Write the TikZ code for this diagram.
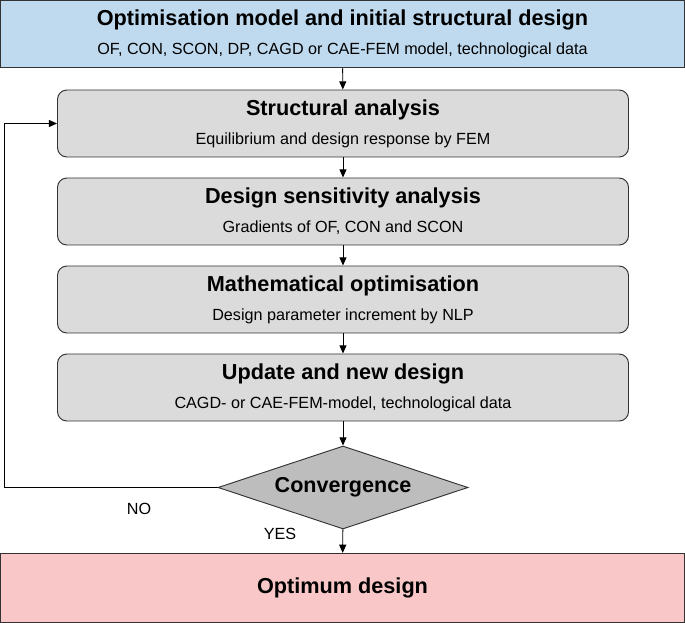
\documentclass[tikz,border=0pt]{standalone}
\usepackage{fontspec}
\setmainfont{Liberation Sans}
\usetikzlibrary{shapes.geometric,arrows.meta}
\definecolor{topblue}{HTML}{BFDAEF}
\definecolor{boxgray}{HTML}{DBDBDB}
\definecolor{diagray}{HTML}{BDBDBD}
\definecolor{endpink}{HTML}{F9C7C7}
\definecolor{edge}{HTML}{333333}

\begin{document}
\begin{tikzpicture}[x=0.3mm,y=-0.3mm,>={Triangle[length=7pt,width=6pt]},
  sub/.style={font=\fontsize{13.8}{16}\selectfont},
  stage/.style={draw=edge,line width=0.8pt,fill=boxgray,rounded corners=8pt,
    minimum width=171.3mm,minimum height=20.1mm,align=center,inner sep=0pt}]
\useasboundingbox (0,0) rectangle (685,623);
%\draw[help lines] (0,0) grid[step=50] (685,623);
\node[draw=edge,line width=1pt,fill=topblue,minimum width=205mm,minimum height=20.2mm,
  align=center,inner sep=0pt] (init) at (342.5,34)
  {{\bfseries\fontsize{18.5}{21}\selectfont Optimisation model and initial structural design}\\[10pt]
   {\fontsize{13.8}{16}\selectfont OF, CON, SCON, DP, CAGD or CAE-FEM model, technological data}};
\foreach \y/\n/\h/\t in {123.5/sa/Structural analysis/Equilibrium and design response by FEM,
    211.5/dsa/Design sensitivity analysis/{Gradients of OF, CON and SCON},
    299.5/mo/Mathematical optimisation/Design parameter increment by NLP,
    387.5/upd/Update and new design/{CAGD- or CAE-FEM-model, technological data}}
  \node[stage] (\n) at (343,\y)
    {{\bfseries\fontsize{18.5}{21}\selectfont \h}\\[10pt]{\fontsize{13.8}{16}\selectfont \t}};
\node[diamond,aspect=3,draw=edge,line width=0.8pt,fill=diagray,minimum width=75mm,minimum height=24.9mm,
  inner sep=0pt] (conv) at (343,487.5) {\bfseries\fontsize{18.4}{21}\selectfont Convergence};
\node[draw=edge,line width=1pt,fill=endpink,minimum width=205mm,minimum height=20.7mm,
  inner sep=0pt] (opt) at (342.5,588) {\bfseries\fontsize{18.5}{21}\selectfont Optimum design};
\node[sub] (no) at (139,509) {NO};
\node[sub] (yes) at (280,534) {YES};
\coordinate (back) at (4,487.5);
\foreach \s/\t in {init/sa, sa/dsa, dsa/mo, mo/upd, upd/conv, conv/opt}
  \draw[->,line width=0.8pt] (\s) -- (\t);
\draw[->,line width=0.8pt] (conv.west) -- (back) |- (sa.west);
\end{tikzpicture}
\end{document}
